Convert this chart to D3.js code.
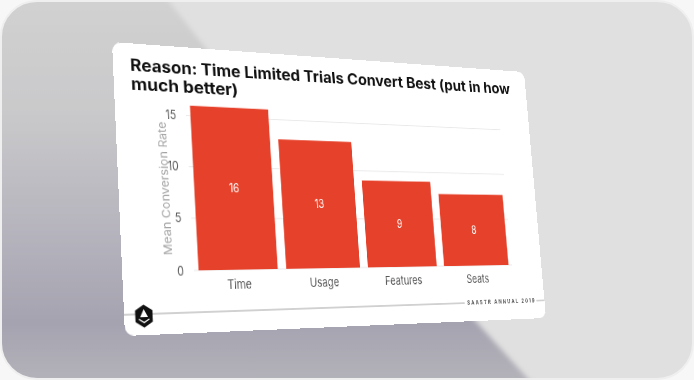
<!DOCTYPE html>
<html><head><meta charset="utf-8">
<script src="https://cdn.jsdelivr.net/npm/d3@7"></script>
<style>
html,body{margin:0;padding:0;background:#f7f7f7;width:694px;height:380px;overflow:hidden;}
#bg{position:absolute;left:0;top:0;}
#slide{position:absolute;left:0;top:0;transform-origin:0 0;width:570px;height:300px;}
</style></head><body>
<svg id="bg" width="694" height="380"></svg>
<div id="slide"></div>
<script>
// ---- data ----
const categories = ["Time", "Usage", "Features", "Seats"];
const values = [16.0, 13.0, 9.0, 7.7];
const yTicks = [0, 5, 10, 15];
const titleLines = ["Reason: Time Limited Trials Convert Best (put in how", "much better)"];
const yTitle = "Mean Conversion Rate";
const footerText = "SAASTR ANNUAL 2019";

// ---- background ----
const bg = d3.select("#bg");
const defs = bg.append("defs");
defs.append("clipPath").attr("id", "outer")
  .append("rect").attr("x", 1).attr("y", 1).attr("width", 692).attr("height", 378).attr("rx", 36);
const grad = defs.append("linearGradient").attr("id", "shade")
  .attr("gradientUnits", "userSpaceOnUse").attr("x1", 0).attr("y1", 0).attr("x2", 0).attr("y2", 380);
[[0, "#d1d1d1"], [0.3, "#c9c9cb"], [0.6, "#b6b4bd"], [0.85, "#a5a3b0"], [1, "#b3b2b9"]]
  .forEach(([o, c]) => grad.append("stop").attr("offset", o).attr("stop-color", c));
const blur = defs.append("filter").attr("id", "soft").attr("x", -0.1).attr("y", -0.1).attr("width", 1.2).attr("height", 1.2);
blur.append("feGaussianBlur").attr("stdDeviation", 2.5);

const g0 = bg.append("g").attr("clip-path", "url(#outer)");
g0.append("rect").attr("width", 694).attr("height", 380).attr("fill", "#e0e0e0");
g0.append("polygon")
  .attr("points", [[-10, -10], [160, -10], [215, 60], [470, 315], [540, 392], [-10, 392]].map(p => p.join(",")).join(" "))
  .attr("fill", "url(#shade)").attr("filter", "url(#soft)");
bg.append("rect").attr("x", 1).attr("y", 1).attr("width", 692).attr("height", 378).attr("rx", 36)
  .attr("fill", "none").attr("stroke", "#efefef").attr("stroke-width", 2);

// ---- slide (flat coordinates, projected with a homography) ----
const W = 570, H = 300;
const corners = [[112, 42], [524, 72], [546, 318], [125, 336]];
(function () {
  const [[x0, y0], [x1, y1], [x2, y2], [x3, y3]] = corners;
  const dx1 = x1 - x2, dx2 = x3 - x2, sx = x0 - x1 + x2 - x3;
  const dy1 = y1 - y2, dy2 = y3 - y2, sy = y0 - y1 + y2 - y3;
  const det = dx1 * dy2 - dx2 * dy1;
  const g = (sx * dy2 - dx2 * sy) / det, h = (dx1 * sy - sx * dy1) / det;
  const a = x1 - x0 + g * x1, b = x3 - x0 + h * x3, c = x0;
  const d = y1 - y0 + g * y1, e = y3 - y0 + h * y3, f = y0;
  const m = [a / W, d / W, 0, g / W, b / H, e / H, 0, h / H, 0, 0, 1, 0, c, f, 0, 1];
  d3.select("#slide").style("transform", "matrix3d(" + m.join(",") + ")");
})();

const svg = d3.select("#slide").append("svg").attr("width", W).attr("height", H)
  .style("font-family", "Inter, 'Noto Sans', sans-serif");
svg.append("rect").attr("width", W).attr("height", H).attr("rx", 10).attr("fill", "#ffffff");

// title
const tl = [524, 131];
titleLines.forEach((t, i) => {
  svg.append("text").attr("x", 20).attr("y", 29.5 + i * 19.5)
    .attr("font-size", 17).attr("font-weight", 700).attr("fill", "#111")
    .attr("textLength", tl[i]).attr("lengthAdjust", "spacingAndGlyphs").text(t);
});

// chart
const plot = { left: 84, right: 523, bottom: 236 };
const x = d3.scaleBand().domain(categories).range([plot.left, plot.right]).paddingInner(0.1).paddingOuter(0.05);
const y = d3.scaleLinear().domain([0, 16.3]).range([plot.bottom, 59.5]);

svg.append("g").selectAll("line").data(yTicks).join("line")
  .attr("x1", plot.left).attr("x2", plot.right)
  .attr("y1", d => y(d)).attr("y2", d => y(d))
  .attr("stroke", "#e8e8e8").attr("stroke-width", 1);

const yAxis = svg.append("g").attr("transform", `translate(${plot.left - 12},0)`)
  .call(d3.axisLeft(y).tickValues(yTicks).tickSize(0).tickPadding(0));
yAxis.select(".domain").remove();
yAxis.selectAll("text").attr("font-size", 12.5).attr("fill", "#555").attr("font-family", "Inter, sans-serif");

svg.append("g").selectAll("rect").data(values).join("rect")
  .attr("x", (d, i) => x(categories[i])).attr("width", x.bandwidth())
  .attr("y", d => y(d)).attr("height", d => y(0) - y(d))
  .attr("fill", "#e6412a");

svg.append("g").selectAll("text").data(values).join("text")
  .attr("x", (d, i) => x(categories[i]) + x.bandwidth() / 2)
  .attr("y", d => (y(d) + y(0)) / 2).attr("dy", "0.35em")
  .attr("text-anchor", "middle").attr("font-size", 12.5).attr("fill", "#fff")
  .text(d => d3.format(".0f")(d));

const xAxis = svg.append("g").attr("transform", `translate(0,${plot.bottom + 11})`)
  .call(d3.axisBottom(x).tickSize(0).tickPadding(0));
xAxis.select(".domain").remove();
xAxis.selectAll("text").attr("font-size", 13).attr("fill", "#555").attr("dy", "0.71em").attr("font-family", "Inter, sans-serif");

svg.append("text").attr("transform", `translate(54,150.6) rotate(-90)`)
  .attr("text-anchor", "middle").attr("dy", "0.35em")
  .attr("font-size", 13).attr("fill", "#a3a3a3").text(yTitle);

// footer
const fy = 279;
svg.append("line").attr("x1", 0).attr("x2", 445).attr("y1", fy).attr("y2", fy).attr("stroke", "#8a8a8a").attr("stroke-width", 0.8);
svg.append("line").attr("x1", 557).attr("x2", W).attr("y1", fy).attr("y2", fy).attr("stroke", "#8a8a8a").attr("stroke-width", 0.8);
svg.append("text").attr("x", 449).attr("y", fy).attr("dy", "0.35em")
  .attr("font-size", 6.5).attr("font-weight", 600).attr("fill", "#444").attr("textLength", 105).attr("lengthAdjust", "spacing")
  .text(footerText);

// logo
const lg = svg.append("g").attr("transform", "translate(22.6,281)");
const hex = d3.range(6).map(i => { const an = Math.PI / 3 * i - Math.PI / 2; return [11.5 * Math.cos(an), 11.5 * Math.sin(an)]; });
lg.append("polygon").attr("points", hex.map(p => p.join(",")).join(" ")).attr("fill", "#111");
lg.append("path").attr("d", "M0,-7 L4.5,1 L-4.5,1 Z").attr("fill", "#fff");
lg.append("path").attr("d", "M-6,3 L0,6.5 L6,3").attr("fill", "none").attr("stroke", "#fff").attr("stroke-width", 1.4);
</script>
</body></html>
